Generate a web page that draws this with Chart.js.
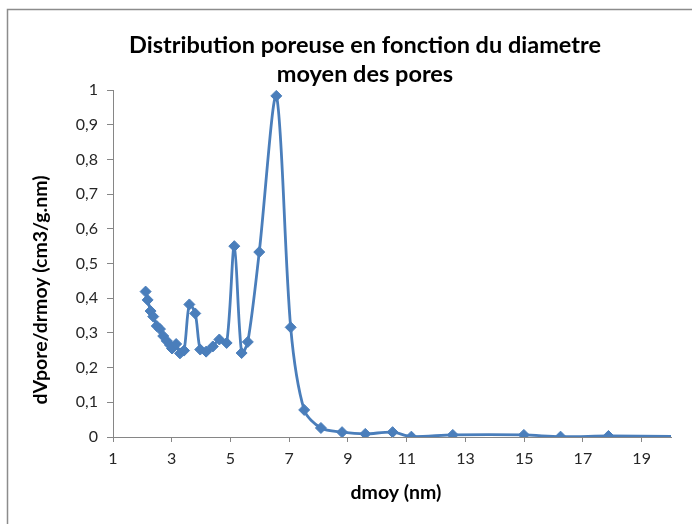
<!DOCTYPE html>
<html>
<head>
<meta charset="utf-8">
<script src="https://cdn.jsdelivr.net/npm/chart.js@4.4.1/dist/chart.umd.min.js"></script>
<style>
  html, body { margin: 0; padding: 0; background: #fff; }
  #wrap { position: relative; width: 692px; height: 524px; }
</style>
</head>
<body>
<div id="wrap"><canvas id="chart" width="692" height="524"></canvas></div>
<script>
// pore size distribution: mean diameter (nm) vs dVpore/drmoy
const dmoy = [2.11, 2.18, 2.28, 2.37, 2.49, 2.60, 2.71, 2.83, 2.94, 3.01, 3.15, 3.28, 3.42,
  3.60, 3.80, 3.97, 4.17, 4.40, 4.62, 4.87, 5.13, 5.38, 5.59, 5.98, 6.56, 7.05, 7.51,
  8.08, 8.80, 9.59, 10.52, 11.16, 12.57, 14.99, 16.24, 17.87, 20.00]
const dvpore = [0.419, 0.395, 0.363, 0.347, 0.320, 0.311, 0.291, 0.277, 0.265, 0.255, 0.268, 0.241, 0.249,
  0.382, 0.356, 0.252, 0.246, 0.261, 0.281, 0.271, 0.550, 0.242, 0.274, 0.533, 0.983, 0.316, 0.078,
  0.026, 0.014, 0.009, 0.014, 0.001, 0.006, 0.006, 0.001, 0.003, 0.002]
const xTicks = [1, 3, 5, 7, 9, 11, 13, 15, 17, 19]

const titleLines = ['Distribution poreuse en fonction du diametre', 'moyen des pores']
const xTitle = 'dmoy (nm)'
const yTitle = 'dVpore/drmoy (cm3/g.nm)'

const blue = '#4A7EBB'
const axisGrey = '#868686'
const FONT = 'Lato, "Open Sans", sans-serif'

const points = dmoy.map((x, i) => ({ x: x, y: dvpore[i] }))

// outer frame, chart title and axis titles, Excel style
const frame = {
  id: 'frame',
  beforeDraw (chart) {
    const ctx = chart.ctx
    ctx.save()
    ctx.strokeStyle = '#8c8c8c'
    ctx.lineWidth = 1.5
    ctx.strokeRect(7.5, 9.5, 700, 530)
    ctx.restore()
  },
  afterDraw (chart) {
    const ctx = chart.ctx
    const area = chart.chartArea
    ctx.save()
    ctx.fillStyle = '#000'
    ctx.textAlign = 'center'
    ctx.textBaseline = 'middle'
    ctx.font = 'bold 23.5px ' + FONT
    ctx.fillText(titleLines[0], 365, 45)
    ctx.fillText(titleLines[1], 365, 74)
    ctx.font = 'bold 19.5px ' + FONT
    ctx.fillText(xTitle, (area.left + area.right) / 2 + 4, 493)
    ctx.translate(41, 290)
    ctx.rotate(-Math.PI / 2)
    ctx.fillText(yTitle, 0, 0)
    ctx.restore()
  }
}

new Chart(document.getElementById('chart'), {
  type: 'scatter',
  data: {
    datasets: [{
      data: points,
      showLine: true,
      tension: 0.3,
      borderColor: blue,
      backgroundColor: blue,
      borderWidth: 2.8,
      pointStyle: 'rectRot',
      pointRadius: dmoy.map((x, i) => i === dmoy.length - 1 ? 0 : 5.5),
      pointBorderWidth: 1
    }]
  },
  options: {
    responsive: false,
    animation: false,
    layout: { padding: { top: 90, right: 21, bottom: 0, left: 0 } },
    plugins: {
      legend: { display: false },
      tooltip: { enabled: false },
      title: { display: false }
    },
    scales: {
      x: {
        type: 'linear',
        min: 1,
        max: 20,
        afterBuildTicks: (scale) => { scale.ticks = xTicks.map(v => ({ value: v })) },
        afterFit: (scale) => { scale.height = 87 },
        grid: { drawOnChartArea: false, color: axisGrey, tickLength: 5 },
        border: { color: axisGrey, width: 1 },
        ticks: { color: '#262626', font: { family: FONT, size: 16 }, padding: 7, maxRotation: 0 }
      },
      y: {
        min: 0,
        max: 1,
        afterFit: (scale) => { scale.width = 113 },
        grid: { drawOnChartArea: false, color: axisGrey, tickLength: 6 },
        border: { color: axisGrey, width: 1 },
        ticks: {
          stepSize: 0.1,
          color: '#262626',
          font: { family: FONT, size: 16 },
          padding: 9,
          callback: (v) => String(Number(v.toFixed(1))).replace('.', ',')
        }
      }
    }
  },
  plugins: [frame]
})
</script>
</body>
</html>
